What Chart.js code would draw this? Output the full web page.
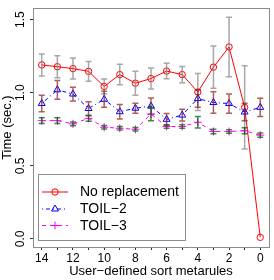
<!DOCTYPE html>
<html>
<head>
<meta charset="utf-8">
<script src="https://cdn.jsdelivr.net/npm/chart.js@4/dist/chart.umd.min.js"></script>
<style>
  html, body { margin: 0; padding: 0; background: #fff; }
  canvas { display: block; }
</style>
</head>
<body>
<canvas id="chart" width="274" height="280"></canvas>
<script>
// x positions (number of user-defined sort metarules)
const metarules = [14, 13, 12, 11, 10, 9, 8, 7, 6, 5, 4, 3, 2, 1, 0];
const xTicks = [0, 1, 2, 3, 4, 5, 6, 7, 8, 9, 10, 11, 12, 13, 14];
const yTicks = [0, 0.5, 1.0, 1.5];

const seriesNames = ['No replacement', 'TOIL\u22122', 'TOIL\u22123'];

const noReplacement    = [1.19, 1.178, 1.165, 1.146, 1.043, 1.124, 1.065, 1.097, 1.148, 1.124, 1.005, 1.175, 1.313, 0.90, 0.011];
const noReplacementErr = [0.075, 0.075, 0.072, 0.068, 0.05, 0.07, 0.082, 0.072, 0.053, 0.055, 0.127, 0.145, 0.203, 0.285, 0];

const toil2    = [0.926, 1.02, 0.991, 0.892, 0.955, 0.87, 0.894, 0.908, 0.818, 0.847, 0.96, 0.933, 0.926, 0.868, 0.90];
const toil2Err = [0.056, 0.064, 0.047, 0.047, 0.055, 0.049, 0.034, 0.056, 0.04, 0.04, 0.06, 0.073, 0.066, 0.06, 0.062];

const toil3    = [0.809, 0.809, 0.787, 0.825, 0.764, 0.757, 0.75, 0.854, 0.769, 0.769, 0.798, 0.735, 0.735, 0.74, 0.71];
const toil3Err = [0.02, 0.02, 0.012, 0.02, 0.012, 0.012, 0.012, 0.046, 0.012, 0.012, 0.04, 0.015, 0.012, 0.02, 0.015];

const FONT = 'Liberation Sans, Arial, Helvetica, sans-serif';

function toPoints(values) {
    return metarules.map((x, i) => ({ x: x, y: values[i] }));
}

// error bars, drawn with the chart's own scales
const errorBars = {
    id: 'errorBars',
    afterDatasetDraw(chart, args) {
        const ds = chart.data.datasets[args.index];
        if (!ds.errors) return;
        const ctx = chart.ctx;
        const xs = chart.scales.x, ys = chart.scales.y;
        ctx.save();
        ctx.strokeStyle = ds.errorColor;
        ctx.lineWidth = 1.5;
        ds.data.forEach((p, i) => {
            const e = ds.errors[i];
            if (!e) return;
            const px = xs.getPixelForValue(p.x);
            const top = ys.getPixelForValue(p.y + e);
            const bot = ys.getPixelForValue(p.y - e);
            ctx.beginPath();
            ctx.moveTo(px, top); ctx.lineTo(px, bot);
            ctx.moveTo(px - 3, top); ctx.lineTo(px + 3, top);
            ctx.moveTo(px - 3, bot); ctx.lineTo(px + 3, bot);
            ctx.stroke();
        });
        ctx.restore();
    }
};

// gray frame around the plot region
const plotBox = {
    id: 'plotBox',
    afterDraw(chart) {
        const a = chart.chartArea, ctx = chart.ctx;
        ctx.save();
        ctx.strokeStyle = '#8c8c8c';
        ctx.lineWidth = 1;
        ctx.strokeRect(Math.round(a.left) + 0.5, Math.round(a.top) + 0.5,
            Math.round(a.right - a.left), Math.round(a.bottom - a.top));
        ctx.restore();
    }
};

// R-style legend box with line + marker samples
const boxLegend = {
    id: 'boxLegend',
    afterDraw(chart) {
        const ctx = chart.ctx;
        const x0 = 38.5, y0 = 174.5, w = 147, h = 66;
        ctx.save();
        ctx.fillStyle = '#fff';
        ctx.fillRect(x0, y0, w, h);
        ctx.strokeStyle = '#8c8c8c';
        ctx.lineWidth = 1;
        ctx.strokeRect(x0, y0, w, h);
        const rows = [192, 209, 225.5];
        chart.data.datasets.forEach((ds, i) => {
            const y = rows[i];
            ctx.strokeStyle = ds.borderColor;
            ctx.lineWidth = 1;
            ctx.setLineDash(ds.borderDash || []);
            ctx.beginPath();
            ctx.moveTo(42, y); ctx.lineTo(68, y);
            ctx.stroke();
            ctx.setLineDash([]);
            ctx.fillStyle = 'rgba(0,0,0,0)';
            ctx.strokeStyle = ds.pointBorderColor;
            Chart.helpers.drawPoint(ctx, {
                pointStyle: ds.pointStyle, radius: ds.pointRadius,
                borderWidth: 1, rotation: 0
            }, 55, y);
            ctx.fillStyle = '#000';
            ctx.font = '14px ' + FONT;
            ctx.textBaseline = 'middle';
            ctx.textAlign = 'left';
            ctx.fillText(ds.label, 80, y + 0.5);
        });
        ctx.restore();
    }
};

new Chart(document.getElementById('chart').getContext('2d'), {
    type: 'line',
    data: {
        datasets: [{
            label: seriesNames[0],
            data: toPoints(noReplacement),
            errors: noReplacementErr,
            errorColor: 'rgba(120, 120, 120, 0.65)',
            borderColor: '#ff0000',
            borderWidth: 1,
            pointStyle: 'circle',
            pointRadius: 3.2,
            pointBorderColor: '#ff0000',
            pointBackgroundColor: 'rgba(0,0,0,0)',
            pointBorderWidth: 1,
            order: 3
        }, {
            label: seriesNames[1],
            data: toPoints(toil2),
            errors: toil2Err,
            errorColor: 'rgba(139, 26, 26, 0.7)',
            borderColor: '#0000ff',
            borderWidth: 1,
            borderDash: [1, 3, 4, 3],
            pointStyle: 'triangle',
            pointRadius: 4,
            pointBorderColor: '#0000ff',
            pointBackgroundColor: 'rgba(0,0,0,0)',
            pointBorderWidth: 1,
            order: 2
        }, {
            label: seriesNames[2],
            data: toPoints(toil3),
            errors: toil3Err,
            errorColor: 'rgba(0, 100, 0, 0.75)',
            borderColor: '#ff00ff',
            borderWidth: 1,
            borderDash: [4, 4],
            pointStyle: 'cross',
            pointRadius: 4,
            pointBorderColor: '#ff00ff',
            pointBorderWidth: 1,
            order: 1
        }]
    },
    options: {
        responsive: false,
        animation: false,
        layout: { padding: { left: 0, right: 4, top: 5, bottom: 0 } },
        plugins: {
            legend: { display: false },
            tooltip: { enabled: false }
        },
        scales: {
            x: {
                type: 'linear',
                reverse: true,
                min: -0.56,
                max: 14.56,
                afterBuildTicks: s => { s.ticks = xTicks.map(v => ({ value: v })); },
                afterFit: s => { s.height = 33; },
                border: { display: false },
                grid: { drawOnChartArea: false, drawTicks: true, tickLength: 3, color: '#333' },
                ticks: {
                    autoSkip: false,
                    maxRotation: 0,
                    padding: 1,
                    color: '#000',
                    font: { family: FONT, size: 12 },
                    callback: v => (v % 2 === 0 ? String(v) : '')
                },
                title: {
                    display: true,
                    text: 'User\u2212defined sort metarules',
                    color: '#000',
                    font: { family: FONT, size: 13 },
                    padding: { top: 0, bottom: 1 }
                }
            },
            y: {
                min: -0.055,
                max: 1.578,
                afterBuildTicks: s => { s.ticks = yTicks.map(v => ({ value: v })); },
                afterFit: s => { s.width = 33; },
                border: { display: false },
                grid: { drawOnChartArea: false, drawTicks: true, tickLength: 3, color: '#333' },
                ticks: {
                    minRotation: 90,
                    maxRotation: 90,
                    crossAlign: 'center',
                    padding: 1,
                    color: '#000',
                    font: { family: FONT, size: 12 },
                    callback: v => v.toFixed(1)
                },
                title: {
                    display: true,
                    text: 'Time (sec.)',
                    color: '#000',
                    font: { family: FONT, size: 13 },
                    padding: { top: 0, bottom: 0 }
                }
            }
        }
    },
    plugins: [errorBars, plotBox, boxLegend]
});
</script>
</body>
</html>
